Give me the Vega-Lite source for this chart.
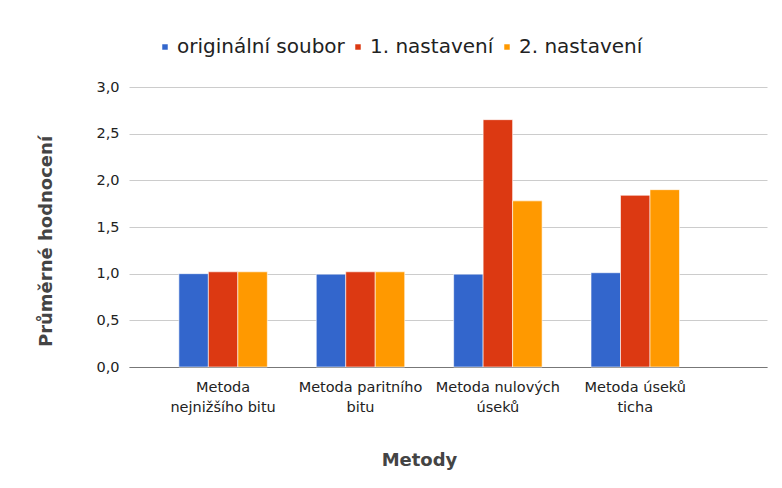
{
  "$schema": "https://vega.github.io/schema/vega-lite/v6.json",
  "autosize": {"type": "none"},
  "padding": {"left": 129, "top": 87, "right": 15, "bottom": 121},
  "width": 638,
  "height": 280,
  "background": "white",
  "data": {
    "values": [
      {"metoda": "Metoda nejnižšího bitu", "serie": "originální soubor", "hodnota": 1.0},
      {"metoda": "Metoda nejnižšího bitu", "serie": "1. nastavení", "hodnota": 1.02},
      {"metoda": "Metoda nejnižšího bitu", "serie": "2. nastavení", "hodnota": 1.02},
      {"metoda": "Metoda paritního bitu", "serie": "originální soubor", "hodnota": 0.995},
      {"metoda": "Metoda paritního bitu", "serie": "1. nastavení", "hodnota": 1.02},
      {"metoda": "Metoda paritního bitu", "serie": "2. nastavení", "hodnota": 1.02},
      {"metoda": "Metoda nulových úseků", "serie": "originální soubor", "hodnota": 0.995},
      {"metoda": "Metoda nulových úseků", "serie": "1. nastavení", "hodnota": 2.65},
      {"metoda": "Metoda nulových úseků", "serie": "2. nastavení", "hodnota": 1.78},
      {"metoda": "Metoda úseků ticha", "serie": "originální soubor", "hodnota": 1.01},
      {"metoda": "Metoda úseků ticha", "serie": "1. nastavení", "hodnota": 1.84},
      {"metoda": "Metoda úseků ticha", "serie": "2. nastavení", "hodnota": 1.9}
    ]
  },
  "mark": {"type": "bar", "stroke": "white", "strokeWidth": 0.6},
  "encoding": {
    "x": {
      "field": "metoda",
      "type": "nominal",
      "sort": ["Metoda nejnižšího bitu", "Metoda paritního bitu", "Metoda nulových úseků", "Metoda úseků ticha"],
      "scale": {"paddingInner": 0.356, "paddingOuter": 0.5, "align": 0.363},
      "axis": {
        "title": "Metody",
        "titleFont": "DejaVu Sans",
        "titleFontSize": 18,
        "titleFontWeight": "bold",
        "titleColor": "#444444",
        "titleX": 290,
        "titleY": 93,
        "titleBaseline": "middle",
        "labelAngle": 0,
        "labelFont": "DejaVu Sans",
        "labelFontSize": 14.5,
        "labelColor": "#222222",
        "labelPadding": 13,
        "labelLineHeight": 20,
        "labelBaseline": "top",
        "labelLimit": 200,
        "labelExpr": "datum.label == 'Metoda nejnižšího bitu' ? ['Metoda', 'nejnižšího bitu'] : datum.label == 'Metoda paritního bitu' ? ['Metoda paritního', 'bitu'] : datum.label == 'Metoda nulových úseků' ? ['Metoda nulových', 'úseků'] : ['Metoda úseků', 'ticha']",
        "ticks": false,
        "domainColor": "#777777",
        "domainWidth": 1,
        "grid": false
      }
    },
    "xOffset": {
      "field": "serie",
      "type": "nominal",
      "sort": ["originální soubor", "1. nastavení", "2. nastavení"],
      "scale": {"paddingInner": 0, "paddingOuter": 0}
    },
    "y": {
      "field": "hodnota",
      "type": "quantitative",
      "scale": {"domain": [0, 3], "nice": false},
      "axis": {
        "title": "Průměrné hodnocení",
        "titleFont": "DejaVu Sans",
        "titleFontSize": 18,
        "titleFontWeight": "bold",
        "titleColor": "#444444",
        "titleX": -83,
        "titleY": 154,
        "titleBaseline": "middle",
        "titleAngle": -90,
        "values": [0, 0.5, 1, 1.5, 2, 2.5, 3],
        "labelExpr": "replace(format(datum.value, '.1f'), '.', ',')",
        "labelFont": "DejaVu Sans",
        "labelFontSize": 14.5,
        "labelColor": "#222222",
        "labelPadding": 10,
        "ticks": false,
        "domain": false,
        "grid": true,
        "gridColor": "#cccccc",
        "gridWidth": 1
      }
    },
    "color": {
      "field": "serie",
      "type": "nominal",
      "sort": ["originální soubor", "1. nastavení", "2. nastavení"],
      "scale": {
        "domain": ["originální soubor", "1. nastavení", "2. nastavení"],
        "range": ["#3366cc", "#dc3912", "#ff9900"]
      },
      "legend": {
        "title": null,
        "orient": "none",
        "direction": "horizontal",
        "legendX": 26,
        "legendY": -50,
        "padding": 0,
        "symbolType": "square",
        "symbolSize": 30,
        "symbolStrokeWidth": 0,
        "labelFont": "DejaVu Sans",
        "labelFontSize": 20,
        "labelColor": "#222222",
        "labelOffset": 2,
        "columnPadding": 3,
        "labelLimit": 300
      }
    }
  },
  "config": {
    "view": {"stroke": null},
    "font": "DejaVu Sans"
  }
}
